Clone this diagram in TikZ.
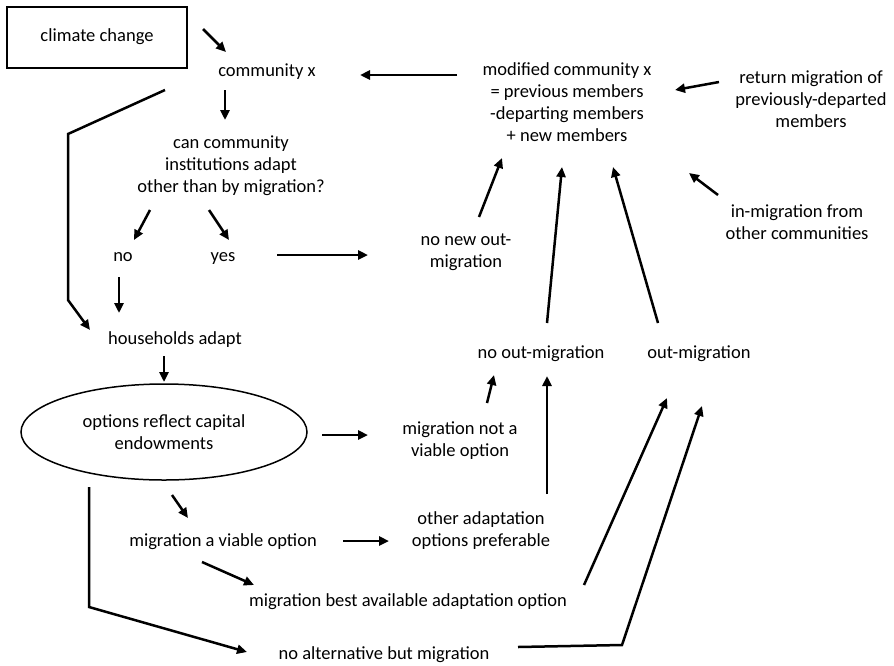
\documentclass[tikz,border=0pt]{standalone}
\usepackage{fontspec}
\setmainfont{Carlito}
\usetikzlibrary{arrows.meta,shapes.geometric}
\begin{document}
\begin{tikzpicture}[x=1pt,y=-1pt,
  txt/.style={inner sep=0pt, align=center, font=\fontsize{18.5}{22}\selectfont},
  one/.style={text height=13pt, text depth=4.5pt},
  arr/.style={line width=2.5pt, -{Triangle[length=10pt,width=9pt]}},
  ln/.style={line width=2.5pt, line join=miter}]
\useasboundingbox (0,0) rectangle (894,665);
% nodes
\node[txt, one, draw, line width=1.5pt, minimum width=180pt, minimum height=61pt] (cc) at (97,37.5) {climate change};
\node[txt, one] (cx) at (267,72) {community x};
\node[txt] (q) at (231,166) {can community\\institutions adapt\\other than by migration?};
\node[txt, one] (no) at (123,257) {no};
\node[txt, one] (yes) at (223,257) {yes};
\node[txt, one] (ha) at (175,340) {households adapt};
\node[txt, ellipse, draw, line width=1.5pt, minimum width=286pt, minimum height=96pt] (opt) at (164,432) {options reflect capital\\endowments};
\node[txt] (nnew) at (466,252) {no new out-\\migration};
\node[txt] (mod) at (567,102.5) {modified community x\\= previous members\\-departing members\\+ new members};
\node[txt] (ret) at (811,99) {return migration of\\previously-departed\\members};
\node[txt] (inm) at (797,222.5) {in-migration from\\other communities};
\node[txt, one] (noout) at (541,354) {no out-migration};
\node[txt, one] (out) at (699,354) {out-migration};
\node[txt] (nv) at (460,440.5) {migration not a\\viable option};
\node[txt] (other) at (481,531) {other adaptation\\options preferable};
\node[txt, one] (mav) at (223,542) {migration a viable option};
\node[txt, one] (best) at (408,602) {migration best available adaptation option};
\node[txt, one] (noalt) at (384,655) {no alternative but migration};
% connector end points
\coordinate (ccS) at (203,29);   \coordinate (cxN) at (226,52);
\coordinate (cxS) at (225,90);   \coordinate (qN) at (225,120);
\coordinate (modW) at (457,75);  \coordinate (cxE) at (360,75);
\coordinate (retW) at (719,82);  \coordinate (modE) at (675,90);
\coordinate (inmN) at (718,195); \coordinate (modSE) at (689,173);
\coordinate (qSW) at (150,210);  \coordinate (noN) at (134,240);
\coordinate (qSE) at (209,210);  \coordinate (yesN) at (229,240);
\coordinate (yesE) at (277,255); \coordinate (nnewW) at (368,255);
\coordinate (noS) at (119,277);  \coordinate (haN) at (119,313);
\coordinate (cxSW) at (165,90);  \coordinate (k1) at (68,134);
\coordinate (k2) at (68,300);    \coordinate (haW) at (90,330);
\coordinate (haS) at (164,356);  \coordinate (optN) at (164,382);
\coordinate (optE) at (322,435); \coordinate (nvW) at (368,435);
\coordinate (optS) at (172,495); \coordinate (mavN) at (188,518);
\coordinate (optSW) at (89,487); \coordinate (k3) at (89,607);
\coordinate (noaltW) at (247,652);
\coordinate (mavE) at (343,541); \coordinate (otherW) at (389,541);
\coordinate (mavSE) at (202,562); \coordinate (bestN) at (254,585);
\coordinate (nvN) at (487,403);  \coordinate (nooutS) at (494,375);
\coordinate (otherN) at (547,494); \coordinate (nooutS2) at (547,376);
\coordinate (bestE) at (584,585); \coordinate (outS) at (667,398);
\coordinate (noaltE) at (518,647); \coordinate (k4) at (622,645);
\coordinate (outS2) at (702,406);
\coordinate (nnewN) at (479,217); \coordinate (modS1) at (502,158);
\coordinate (nooutN) at (547,323); \coordinate (modS2) at (562,167);
\coordinate (outN) at (658,323); \coordinate (modS3) at (613,167);
% connectors
\draw[arr] (ccS) -- (cxN);
\draw[arr] (cxS) -- (qN);
\draw[arr] (modW) -- (cxE);
\draw[arr] (retW) -- (modE);
\draw[arr] (inmN) -- (modSE);
\draw[arr] (qSW) -- (noN);
\draw[arr] (qSE) -- (yesN);
\draw[arr] (yesE) -- (nnewW);
\draw[arr] (noS) -- (haN);
\draw[arr, line join=miter] (cxSW) -- (k1) -- (k2) -- (haW);
\draw[arr] (haS) -- (optN);
\draw[arr] (optE) -- (nvW);
\draw[arr] (optS) -- (mavN);
\draw[arr, line join=miter] (optSW) -- (k3) -- (noaltW);
\draw[arr] (mavE) -- (otherW);
\draw[arr] (mavSE) -- (bestN);
\draw[arr] (nvN) -- (nooutS);
\draw[arr] (otherN) -- (nooutS2);
\draw[arr] (bestE) -- (outS);
\draw[arr, line join=miter] (noaltE) -- (k4) -- (outS2);
\draw[arr] (nnewN) -- (modS1);
\draw[arr] (nooutN) -- (modS2);
\draw[arr] (outN) -- (modS3);
\end{tikzpicture}
\end{document}
